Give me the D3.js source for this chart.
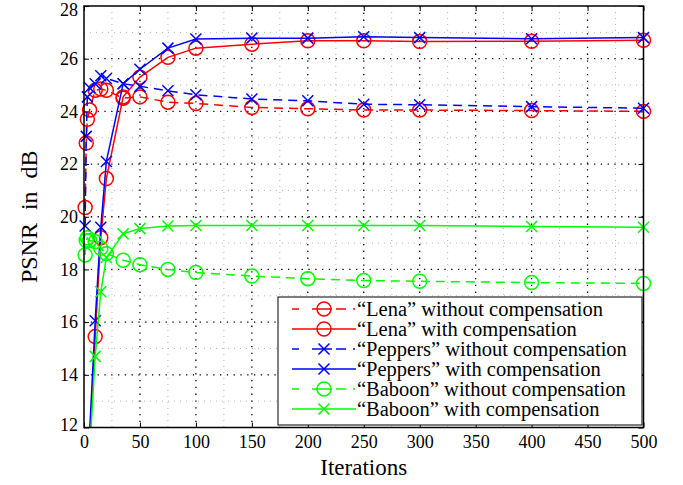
<!DOCTYPE html>
<html>
<head>
<meta charset="utf-8">
<script src="https://cdn.jsdelivr.net/npm/d3@7/dist/d3.min.js"></script>
<style>
  body { margin: 0; background: #fff; }
  text { font-family: "Liberation Serif", "Times New Roman", serif; fill: #000; }
</style>
</head>
<body>
<div class="visHolder"></div>
<script>
// iterations where PSNR was measured
var iterations = [1, 2, 3, 5, 10, 15, 20, 35, 50, 75, 100, 150, 200, 250, 300, 400, 500];

// PSNR values (dB)
var lenaWithout    = [20.35, 22.8, 23.7, 24.05, 24.8, 24.85, 24.8, 24.5, 24.55, 24.35, 24.3, 24.15, 24.1, 24.05, 24.05, 24.03, 24.0];
var lenaWith       = [5.0, 7.0, 9.0, 11.4, 15.45, 19.2, 21.45, 24.55, 25.3, 26.05, 26.4, 26.55, 26.68, 26.68, 26.65, 26.66, 26.7];
var peppersWithout = [19.65, 23.05, 24.55, 24.9, 25.05, 25.35, 25.25, 25.05, 24.95, 24.78, 24.63, 24.47, 24.4, 24.27, 24.25, 24.18, 24.12];
var peppersWith    = [5.5, 7.5, 9.5, 11.8, 16.05, 19.6, 22.1, 25.05, 25.6, 26.4, 26.75, 26.78, 26.78, 26.83, 26.8, 26.76, 26.8];
var baboonWithout  = [18.55, 19.1, 19.2, 19.1, 19.05, 18.8, 18.6, 18.35, 18.18, 18.0, 17.88, 17.75, 17.65, 17.58, 17.55, 17.5, 17.47];
var baboonWith     = [4.0, 6.0, 8.0, 11.0, 14.7, 17.15, 18.45, 19.35, 19.55, 19.65, 19.67, 19.67, 19.67, 19.67, 19.67, 19.63, 19.6];

var seriesNames = [
  "\u201CLena\u201D without compensation",
  "\u201CLena\u201D with compensation",
  "\u201CPeppers\u201D without compensation",
  "\u201CPeppers\u201D with compensation",
  "\u201CBaboon\u201D without compensation",
  "\u201CBaboon\u201D with compensation"
];

var xTicks = [0, 50, 100, 150, 200, 250, 300, 350, 400, 450, 500];
var yTicks = [12, 14, 16, 18, 20, 22, 24, 26, 28];

var series = [
  { name: seriesNames[0], values: lenaWithout, color: "#ff0000", dashed: true, marker: "o" },
  { name: seriesNames[1], values: lenaWith, color: "#ff0000", dashed: false, marker: "o" },
  { name: seriesNames[2], values: peppersWithout, color: "#0000ff", dashed: true, marker: "x" },
  { name: seriesNames[3], values: peppersWith, color: "#0000ff", dashed: false, marker: "x" },
  { name: seriesNames[4], values: baboonWithout, color: "#00ff00", dashed: true, marker: "o" },
  { name: seriesNames[5], values: baboonWith, color: "#00ff00", dashed: false, marker: "x" }
];

var width = 683,
  height = 485;
var pLeft = 84, pRight = 643.5, pTop = 6, pBottom = 427.5;

var svg = d3
  .select(".visHolder")
  .append("svg")
  .attr("width", width)
  .attr("height", height);

var xScale = d3.scaleLinear().domain([0, 500]).range([pLeft, pRight]);
var yScale = d3.scaleLinear().domain([12, 28]).range([pBottom, pTop]);

svg.append("clipPath")
  .attr("id", "plotclip")
  .append("rect")
  .attr("x", pLeft)
  .attr("y", pTop)
  .attr("width", pRight - pLeft)
  .attr("height", pBottom - pTop);

// minor grid (gray dots)
var minorX = d3.range(25, 500, 50);
var minorY = d3.range(13, 28, 2);
var grid = svg.append("g");
grid.selectAll(".mx").data(minorX).enter().append("line")
  .attr("x1", function(d) { return xScale(d); })
  .attr("x2", function(d) { return xScale(d); })
  .attr("y1", pTop).attr("y2", pBottom)
  .attr("stroke", "#b4b4b4").attr("stroke-width", 1).attr("stroke-dasharray", "1,5");
grid.selectAll(".my").data(minorY).enter().append("line")
  .attr("y1", function(d) { return yScale(d); })
  .attr("y2", function(d) { return yScale(d); })
  .attr("x1", pLeft).attr("x2", pRight)
  .attr("stroke", "#b4b4b4").attr("stroke-width", 1).attr("stroke-dasharray", "1,5");

// major grid (black dots)
grid.selectAll(".gx").data(xTicks.slice(1, -1)).enter().append("line")
  .attr("x1", function(d) { return xScale(d); })
  .attr("x2", function(d) { return xScale(d); })
  .attr("y1", pTop).attr("y2", pBottom)
  .attr("stroke", "#000").attr("stroke-width", 1.3).attr("stroke-dasharray", "1.3,5.5");
grid.selectAll(".gy").data(yTicks.slice(1, -1)).enter().append("line")
  .attr("y1", function(d) { return yScale(d); })
  .attr("y2", function(d) { return yScale(d); })
  .attr("x1", pLeft).attr("x2", pRight)
  .attr("stroke", "#000").attr("stroke-width", 1.3).attr("stroke-dasharray", "1.3,5.5");

// axes, ticks pointing inward
var xAxis = d3.axisBottom(xScale).tickValues(xTicks).tickSizeInner(-5).tickSizeOuter(0).tickPadding(8);
var yAxis = d3.axisLeft(yScale).tickValues(yTicks).tickSizeInner(-5).tickSizeOuter(0).tickPadding(6);

var xAxisGroup = svg.append("g")
  .attr("transform", "translate(0," + pBottom + ")")
  .call(xAxis);
var yAxisGroup = svg.append("g")
  .attr("transform", "translate(" + pLeft + ",0)")
  .call(yAxis);
[xAxisGroup, yAxisGroup].forEach(function(g) {
  g.select(".domain").remove();
  g.selectAll("text").style("font-size", "18px").style("font-family", "Liberation Serif");
  g.selectAll("line").attr("stroke-width", 1);
});
// keep the top label inside the page, lift the bottom one off the x labels
yAxisGroup.selectAll("text")
  .attr("y", function(d) { return d === 28 ? 3.5 : d === 12 ? -3 : 0; });

// mirrored ticks on top and right
svg.append("g")
  .attr("transform", "translate(0," + pTop + ")")
  .call(d3.axisTop(xScale).tickValues(xTicks).tickSizeInner(-5).tickSizeOuter(0).tickFormat(""))
  .select(".domain").remove();
svg.append("g")
  .attr("transform", "translate(" + pRight + ",0)")
  .call(d3.axisRight(yScale).tickValues(yTicks).tickSizeInner(-5).tickSizeOuter(0).tickFormat(""))
  .select(".domain").remove();

// data lines
var line = d3.line()
  .x(function(d, i) { return xScale(iterations[i]); })
  .y(function(d) { return yScale(d); });

function drawMarkers(g, coords, s) {
  if (s.marker === "o") {
    g.selectAll(null).data(coords).enter().append("circle")
      .attr("cx", function(d) { return d[0]; })
      .attr("cy", function(d) { return d[1]; })
      .attr("r", 7)
      .attr("fill", "none")
      .attr("stroke", s.color)
      .attr("stroke-width", 1.5);
  } else {
    g.selectAll(null).data(coords).enter().append("path")
      .attr("d", function(d) {
        var r = 5.5;
        return "M" + (d[0] - r) + "," + (d[1] - r) + "L" + (d[0] + r) + "," + (d[1] + r) +
          "M" + (d[0] - r) + "," + (d[1] + r) + "L" + (d[0] + r) + "," + (d[1] - r);
      })
      .attr("fill", "none")
      .attr("stroke", s.color)
      .attr("stroke-width", 1.5);
  }
}

var plot = svg.append("g");
series.forEach(function(s) {
  plot.append("path")
    .attr("d", line(s.values))
    .attr("clip-path", "url(#plotclip)")
    .attr("fill", "none")
    .attr("stroke", s.color)
    .attr("stroke-width", 1.5)
    .attr("stroke-dasharray", s.dashed ? "9,6" : null);

  var pts = s.values
    .map(function(v, i) { return { x: iterations[i], y: v }; })
    .filter(function(p) { return p.y >= 12; });
  drawMarkers(plot, pts.map(function(p) { return [xScale(p.x), yScale(p.y)]; }), s);
});

// axes box
svg.append("rect")
  .attr("x", pLeft).attr("y", pTop)
  .attr("width", pRight - pLeft).attr("height", pBottom - pTop)
  .attr("fill", "none").attr("stroke", "#000").attr("stroke-width", 1.5);

// axis titles
svg.append("text")
  .attr("x", (pLeft + pRight) / 2)
  .attr("y", 475)
  .attr("text-anchor", "middle")
  .style("font-size", "23px")
  .text("Iterations");

svg.append("text")
  .attr("transform", "translate(37," + (pTop + pBottom) / 2 + ") rotate(-90)")
  .attr("text-anchor", "middle")
  .style("font-size", "24px")
  .style("word-spacing", "7px")
  .text("PSNR in dB");

// legend
var legend = svg.append("g");
legend.append("rect")
  .attr("x", 278).attr("y", 297)
  .attr("width", 364).attr("height", 128)
  .attr("fill", "#fff").attr("stroke", "#000").attr("stroke-width", 1);

series.forEach(function(s, i) {
  var cy = 309 + i * 20;
  legend.append("line")
    .attr("x1", 292).attr("x2", 356)
    .attr("y1", cy).attr("y2", cy)
    .attr("stroke", s.color)
    .attr("stroke-width", 1.5)
    .attr("stroke-dasharray", s.dashed ? "7,13,20,4,10,7,2" : null);
  drawMarkers(legend, [[324, cy]], s);
  legend.append("text")
    .attr("x", 357)
    .attr("y", cy)
    .attr("dy", "0.34em")
    .style("font-size", "20.5px")
    .text(s.name);
});
</script>
</body>
</html>
